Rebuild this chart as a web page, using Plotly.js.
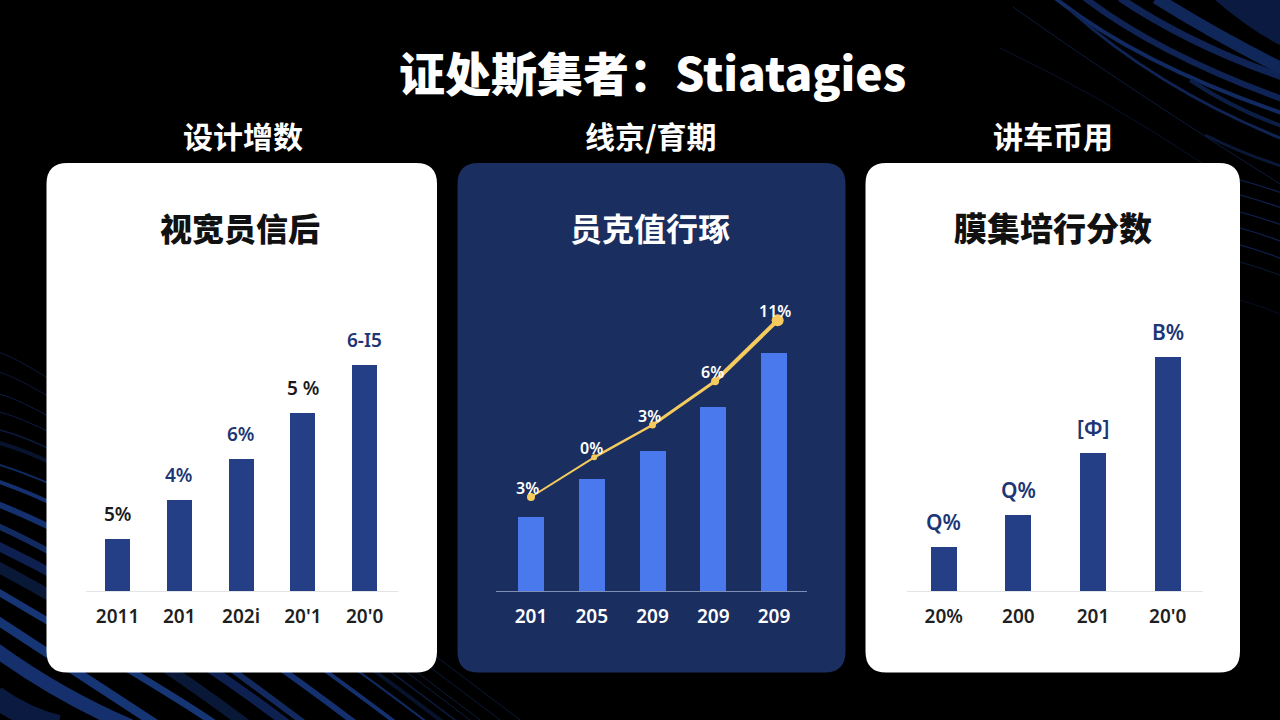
<!DOCTYPE html>
<html>
<head>
<meta charset="utf-8">
<script src="https://cdn.plot.ly/plotly-3.0.1.min.js"></script>
<style>html,body{margin:0;padding:0;background:#000;overflow:hidden}#chart{width:1280px;height:720px}</style>
</head>
<body>
<div id="chart"></div>
<script>
// ---------- chart content ----------
const mainTitle = "证处斯集者：Stiatagies";
const sectionTitles = ["设计增数", "线京/育期", "讲车币用"];
const cardTitles = ["视宽员信后", "员克值行琢", "膜集培行分数"];

const ticksA = ["2011", "201", "202i", "20'1", "20'0"];
const valuesA = [5.23, 9.15, 13.23, 17.83, 22.6];
const labelsA = ["5%", "4%", "6%", "5 %", "6-I5"];

const ticksB = ["201", "205", "209", "209", "209"];
const valuesB = [7.37, 11.17, 13.97, 18.4, 23.83];
const lineB = [9.4, 13.37, 16.6, 20.97, 27.07];
const lineSlotsB = [0, 1.04, 2, 3.03, 4.06];
const labelsB = ["3%", "0%", "3%", "6%", "11%"];

const ticksC = ["20%", "200", "201", "20'0"];
const valuesC = [4.4, 7.63, 13.83, 23.43];
const labelsC = ["Q%", "Q%", "[Φ]", "B%"];

// ---------- layout helpers ----------
const W = 1280, H = 720;
const px = (x) => +(x / W).toFixed(5);
const py = (y) => +(1 - y / H).toFixed(5);
const P = (x, y) => px(x) + " " + py(y);
const card = (x0, x1, y0, y1, r) =>
  "M" + P(x0 + r, y0) + " L" + P(x1 - r, y0) + " Q" + P(x1, y0) + " " + P(x1, y0 + r) +
  " L" + P(x1, y1 - r) + " Q" + P(x1, y1) + " " + P(x1 - r, y1) +
  " L" + P(x0 + r, y1) + " Q" + P(x0, y1) + " " + P(x0, y1 - r) +
  " L" + P(x0, y0 + r) + " Q" + P(x0, y0) + " " + P(x0 + r, y0) + " Z";

const shapes = [];
const stripe = (d, color, width) => shapes.push({
  type: "path", xref: "paper", yref: "paper", layer: "below", path: d,
  line: { color: color, width: width }
});

// lower-left sweep: [y at left edge, x at bottom edge, width, colour]
const leftSweep = [
  [352, 520, 1, "#0a1838"], [372, 500, 1, "#0a1838"], [394, 480, 1, "#0b1c42"],
  [412, 470, 1, "#0b1c42"], [430, 455, 1.5, "#0b1c42"], [443, 440, 4, "#07122c"],
  [465, 424, 2, "#102a62"], [482, 392, 4, "#14306e"], [505, 351, 6, "#14306e"],
  [527, 300, 6, "#122a60"], [547, 282, 9, "#0d2050"], [568, 240, 11, "#0a1838"],
  [593, 210, 7, "#163575"], [622, 151, 9, "#163575"], [653, 122, 14, "#15306c"],
  [700, 50, 22, "#0b1a40"]
];
leftSweep.forEach(([y0, xe, w, c]) => {
  const m0 = Math.min(0.72, 0.05 + (y0 - 350) / 303 * 0.67), m1 = 0.76;
  const denom = m0 - m1;
  const cx = Math.abs(denom) < 0.05 ? xe / 2 : (720 - m1 * xe - y0) / denom;
  const cy = y0 + m0 * cx;
  stripe("M" + P(-5, y0 - 5 * m0) + " Q" + P(cx, cy) + " " + P(xe + 8, 726), c, w);
});

// upper-right sweep: [start, control, end, width, colour]
const rightSweep = [
  [[1013, 7], [1130, 90], [1285, 187], 1, "#0b1a3e"],
  [[1000, 48], [1100, 95], [1205, 165], 1, "#08122c"],
  [[1055, -2], [1140, 65], [1285, 114], 4, "#112a62"],
  [[1085, -2], [1160, 55], [1285, 100], 6, "#0f2454"],
  [[1120, -2], [1190, 45], [1285, 78], 7, "#0f2454"],
  [[1156, -2], [1215, 35], [1285, 70], 12, "#10275a"],
  [[1070, 10], [1160, 90], [1285, 140], 3, "#0f2454"],
  [[1190, 80], [1235, 110], [1285, 127], 4, "#0c1d46"],
  [[1205, 135], [1245, 155], [1285, 167], 3, "#0a1838"],
  [[1240, 180], [1262, 186], [1285, 194], 1.2, "#0e2250"],
  [[1240, 195], [1262, 201], [1285, 209], 1.2, "#0e2250"],
  [[1240, 212], [1262, 218], [1285, 226], 1.2, "#0e2250"],
  [[1240, 228], [1262, 234], [1285, 243], 1.2, "#0e2250"],
  [[1240, 245], [1262, 251], [1285, 260], 1.2, "#0e2250"],
  [[1240, 262], [1262, 268], [1285, 277], 1, "#0a1838"],
  [[1240, 300], [1262, 306], [1285, 316], 1, "#060e24"]
];
rightSweep.forEach(([a, b, c, w, col]) =>
  stripe("M" + P(a[0], a[1]) + " Q" + P(b[0], b[1]) + " " + P(c[0], c[1]), col, w));
// dark blue corner glow
shapes.push({ type: "path", xref: "paper", yref: "paper", layer: "below",
  path: "M" + P(1215, 0) + " Q" + P(1250, 30) + " " + P(1280, 45) + " L" + P(1280, 0) + " Z",
  fillcolor: "#0b1a40", line: { width: 0 } });

// cards
[[46.5, 437, "#ffffff"], [457.5, 845.5, "#1b2e60"], [865.5, 1240, "#ffffff"]].forEach(([a, b, c]) =>
  shapes.push({ type: "path", xref: "paper", yref: "paper", layer: "below",
    path: card(a, b, 163, 672.5, 21), fillcolor: c, line: { width: 0 } }));

// ---------- traces ----------
const NAVY = "#243f86", BLUE = "#4a79ee", GOLD = "#f6cb5e";
const slots = (arr) => arr.map((_, i) => i);
const bar = (vals, color, w, ax) => ({
  type: "bar", x: slots(vals), y: vals, width: w, marker: { color: color, line: { width: 0 } },
  xaxis: "x" + ax, yaxis: "y" + ax, hoverinfo: "skip", showlegend: false
});
const data = [bar(valuesA, NAVY, 0.405, ""), bar(valuesB, BLUE, 0.428, "2"), bar(valuesC, NAVY, 0.348, "3")];

const segWidths = [2, 2.5, 3, 4];
segWidths.forEach((w, i) => data.push({
  type: "scatter", mode: "lines", x: lineSlotsB.slice(i, i + 2), y: lineB.slice(i, i + 2),
  xaxis: "x2", yaxis: "y2", line: { color: GOLD, width: w }, cliponaxis: false,
  hoverinfo: "skip", showlegend: false
}));
data.push({
  type: "scatter", mode: "markers", x: lineSlotsB, y: lineB, xaxis: "x2", yaxis: "y2",
  marker: { color: GOLD, opacity: 1, size: [8, 6, 7, 8, 12], line: { width: 0 } }, cliponaxis: false,
  hoverinfo: "skip", showlegend: false
});

// ---------- annotations ----------
const CJK = '"Noto Sans CJK SC", "Noto Sans", sans-serif';
const LAT = '"Noto Sans", "Noto Sans CJK SC", sans-serif';
const ann = [];
const head = (text, x, y, size, color, weight) => ann.push({
  text: text, xref: "paper", yref: "paper", x: px(x), y: py(y), xanchor: "center", yanchor: "middle",
  showarrow: false, font: { family: CJK, size: size, color: color, weight: weight }
});
head(mainTitle, 652, 71, 46, "#ffffff", 900);
head(sectionTitles[0], 243, 134.5, 30, "#ffffff", 700);
head(sectionTitles[1], 651, 134.5, 30, "#ffffff", 700);
head(sectionTitles[2], 1053, 134.5, 30, "#ffffff", 700);
head(cardTitles[0], 240, 227, 32, "#111111", 900);
head(cardTitles[1], 650, 227, 32, "#ffffff", 700);
head(cardTitles[2], 1053, 227, 33, "#111111", 900);

const valueLabel = (x, y, text, ax, color, xs, ys, size) => ann.push({
  text: text, xref: "x" + ax, yref: "y" + ax, x: x, y: y, xshift: xs, yshift: ys,
  xanchor: "center", yanchor: "middle", showarrow: false,
  font: { family: LAT, size: size, color: color, weight: 600 }
});
const LBL = "#1d3675", INK = "#1a1a1a";
labelsA.forEach((t, i) => valueLabel(i, valuesA[i], t, "", (i === 0 || i === 3) ? INK : LBL, 0, 25, 19));
labelsB.forEach((t, i) => valueLabel(lineSlotsB[i], lineB[i], t, "2", "#ffffff", -3, 9, 16));
labelsC.forEach((t, i) => valueLabel(i, valuesC[i], t, "3", LBL, 0, 25, 21));

// ---------- axes ----------
const yDomain = [py(591), py(300)];
const xAxis = (dom, range, ticks, tickColor, lineColor) => ({
  domain: [px(dom[0]), px(dom[1])], range: range, tickmode: "array",
  tickvals: slots(ticks), ticktext: ticks, showgrid: false, zeroline: false, fixedrange: true,
  showline: true, linecolor: lineColor, linewidth: 1.5, ticks: "", ticklabelstandoff: 8,
  tickangle: 0, tickfont: { family: LAT, size: 19, color: tickColor, weight: 600 }
});
const yAxis = (anchor) => ({
  domain: yDomain, range: [0, 29.1], visible: false, fixedrange: true, anchor: anchor
});

const layout = {
  width: W, height: H, margin: { l: 0, r: 0, t: 0, b: 0 },
  paper_bgcolor: "#000000", plot_bgcolor: "rgba(0,0,0,0)", showlegend: false,
  bargap: 0, shapes: shapes, annotations: ann,
  xaxis: Object.assign(xAxis([86, 398], [-0.51, 4.54], ticksA, "#1f1f1f", "#e2e4e8"), { anchor: "y" }),
  yaxis: yAxis("x"),
  xaxis2: Object.assign(xAxis([496, 807], [-0.576, 4.543], ticksB, "#ffffff", "#7e8db6"), { anchor: "y2" }),
  yaxis2: yAxis("x2"),
  xaxis3: Object.assign(xAxis([906.7, 1203], [-0.496, 3.473], ticksC, "#1f1f1f", "#e2e4e8"), { anchor: "y3" }),
  yaxis3: yAxis("x3")
};

Plotly.newPlot("chart", data, layout, { displayModeBar: false, staticPlot: true });
</script>
</body>
</html>
